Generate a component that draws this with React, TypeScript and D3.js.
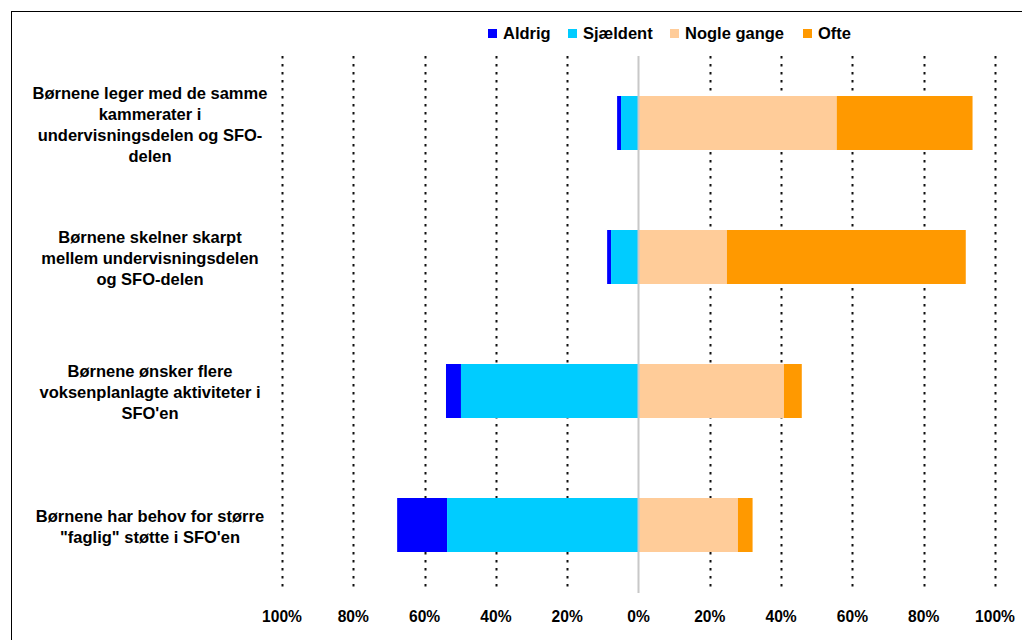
import React from "react";
import * as d3 from "d3";

// Survey statements (one diverging bar each)
const categories: string[][] = [
  ["Børnene leger med de samme", "kammerater i", "undervisningsdelen og SFO-", "delen"],
  ["Børnene skelner skarpt", "mellem undervisningsdelen", "og SFO-delen"],
  ["Børnene ønsker flere", "voksenplanlagte aktiviteter i", "SFO'en"],
  ["Børnene har behov for større", "\"faglig\" støtte i SFO'en"],
];

const seriesNames = ["Aldrig", "Sjældent", "Nogle gange", "Ofte"];
const seriesColors = ["#0000FF", "#00CCFF", "#FFCC99", "#FF9900"];

// Percent of answers per statement
const aldrig = [1.1, 1.1, 4.2, 14.0];
const sjaeldent = [4.9, 7.7, 49.8, 53.7];
const nogleGange = [55.6, 24.8, 40.8, 27.9];
const ofte = [38.1, 67.0, 5.0, 4.1];

const tickValues = [-100, -80, -60, -40, -20, 0, 20, 40, 60, 80, 100];

const W = 1022;
const H = 640;
const FONT = "Arial, 'Liberation Sans', Helvetica, sans-serif";

export default function App() {
  const x = d3.scaleLinear().domain([-100, 100]).range([282, 995]);
  const y = d3
    .scaleBand<number>()
    .domain(categories.map((_, i) => i))
    .range([56, 592])
    .paddingInner(0.597)
    .paddingOuter(0.2985);

  const bh = y.bandwidth();

  // Negative side stacks outward from zero: Sjældent nearest, then Aldrig.
  const segments: { x0: number; x1: number; i: number; s: number }[] = [];
  categories.forEach((_, i) => {
    const sj = sjaeldent[i];
    const al = aldrig[i];
    const ng = nogleGange[i];
    const of = ofte[i];
    segments.push({ x0: -sj - al, x1: -sj, i, s: 0 });
    segments.push({ x0: -sj, x1: 0, i, s: 1 });
    segments.push({ x0: 0, x1: ng, i, s: 2 });
    segments.push({ x0: ng, x1: ng + of, i, s: 3 });
  });

  const legendX = [488, 568, 670, 803];
  const lineH = 21;

  return (
    <div style={{ position: "absolute", left: 0, top: 0 }}>
      <svg width={W} height={H} style={{ display: "block", background: "#fff" }}>
        <rect x={11.5} y={11.5} width={1200} height={1200} fill="#fff" stroke="#000" strokeWidth={1} />

        {/* dotted gridlines */}
        {tickValues
          .filter((t) => t !== 0)
          .map((t) => (
            <line
              key={"g" + t}
              x1={Math.round(x(t)) + 0.5}
              x2={Math.round(x(t)) + 0.5}
              y1={56}
              y2={592}
              stroke="#111"
              strokeWidth={2}
              strokeDasharray="2.5,5.5"
            />
          ))}

        {/* bars */}
        {segments.map((d, k) => (
          <rect
            key={k}
            x={x(d.x0)}
            y={y(d.i)!}
            width={x(d.x1) - x(d.x0)}
            height={bh}
            fill={seriesColors[d.s]}
          />
        ))}

        {/* zero line */}
        <line x1={x(0)} x2={x(0)} y1={56} y2={593} stroke="#c8c8c8" strokeWidth={2} />

        {/* category labels */}
        {categories.map((lines, i) => {
          const cy = y(i)! + bh / 2;
          return (
            <text
              key={"c" + i}
              textAnchor="middle"
              fontFamily={FONT}
              fontWeight="bold"
              fontSize={16.5}
              fill="#000"
            >
              {lines.map((ln, j) => (
                <tspan key={j} x={150} y={cy + (j - (lines.length - 1) / 2) * lineH + 7}>
                  {ln}
                </tspan>
              ))}
            </text>
          );
        })}

        {/* axis tick labels */}
        {tickValues.map((t) => (
          <text
            key={"t" + t}
            x={x(t)}
            y={622}
            textAnchor="middle"
            fontFamily={FONT}
            fontWeight="bold"
            fontSize={15.6}
            fill="#000"
          >
            {d3.format("d")(Math.abs(t)) + "%"}
          </text>
        ))}

        {/* legend */}
        {seriesNames.map((n, s) => (
          <g key={"l" + s}>
            <rect x={legendX[s]} y={29} width={9} height={9} fill={seriesColors[s]} />
            <text
              x={legendX[s] + 15}
              y={39}
              fontFamily={FONT}
              fontWeight="bold"
              fontSize={16.5}
              fill="#000"
            >
              {n}
            </text>
          </g>
        ))}
      </svg>
    </div>
  );
}
